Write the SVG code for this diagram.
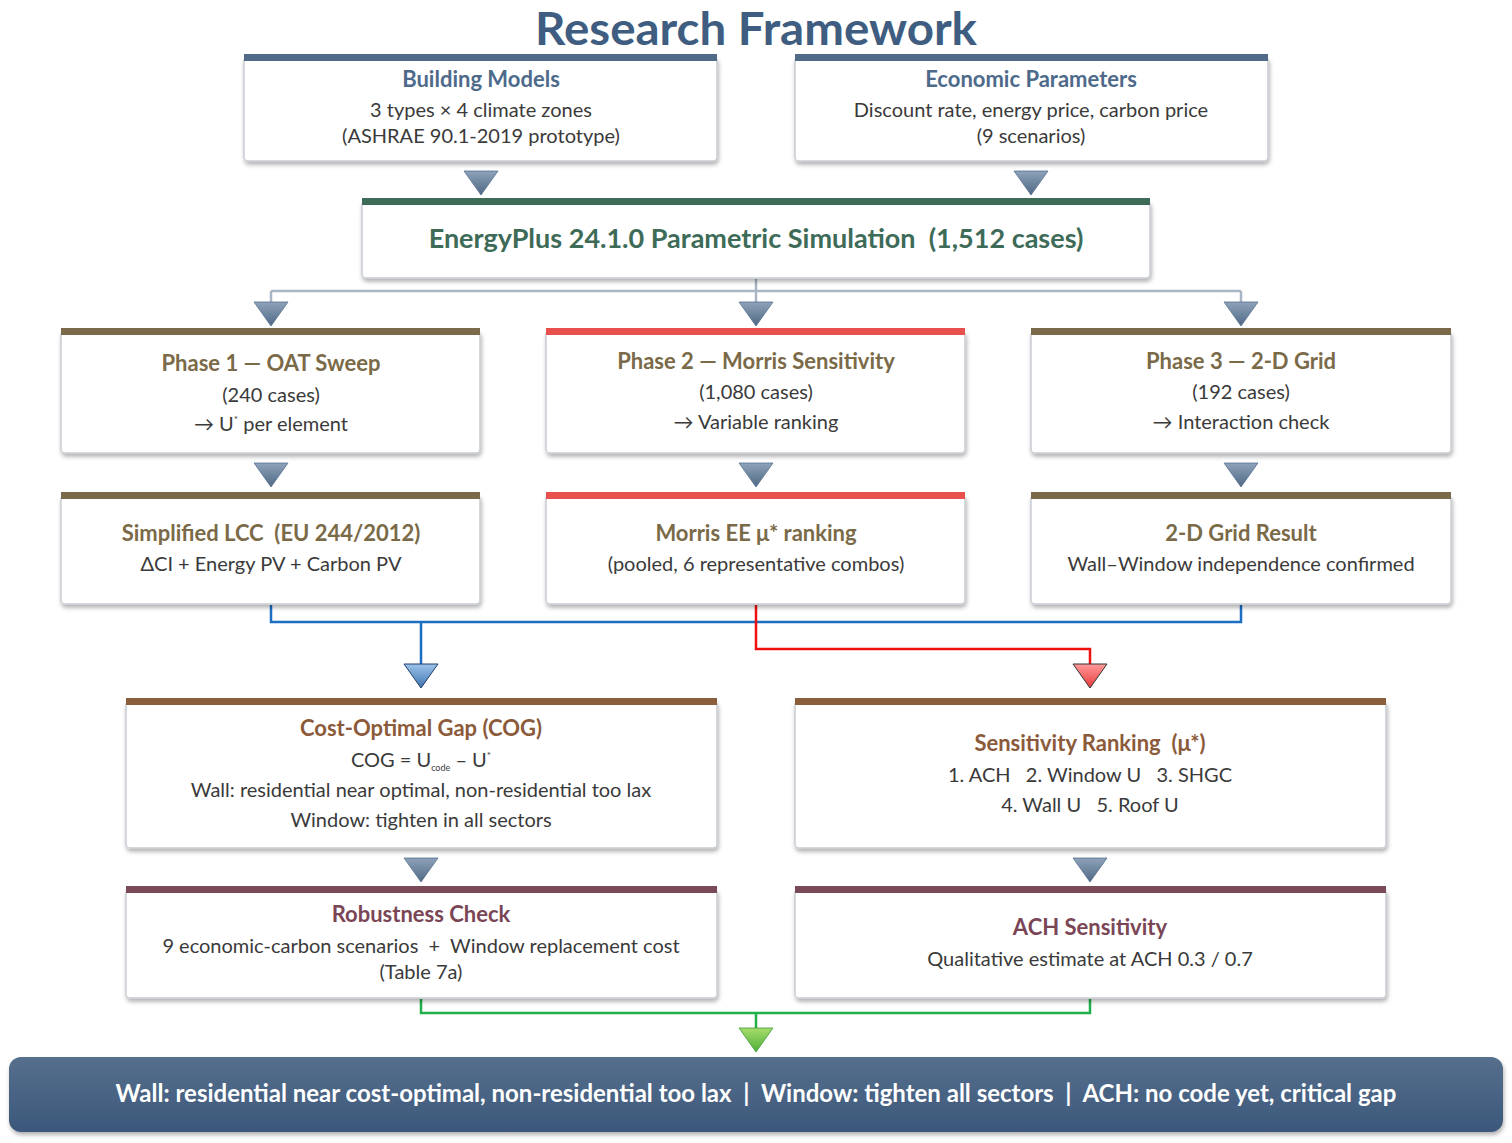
<svg xmlns="http://www.w3.org/2000/svg" width="1512" height="1143" viewBox="0 0 1512 1143">
<defs>
<style>
text{font-family:Lato,"Open Sans","Liberation Sans",sans-serif;text-anchor:middle;white-space:pre}
.box{fill:#fff;stroke:#c8cdd3;stroke-width:1.5;filter:url(#sh)}
.t{font-weight:bold;font-size:22px}
.b{font-size:20px;fill:#3a3a3a}
.c1{fill:#4e6a8a}.c2{fill:#3d6b58}.c3{fill:#7a6a48}.c4{fill:#8b5a3a}.c5{fill:#7a4656}
.con{fill:none;stroke-width:2.5}
</style>
<filter id="sh" x="-5%" y="-5%" width="110%" height="120%"><feDropShadow dx="1" dy="3" stdDeviation="2" flood-color="#000" flood-opacity="0.3"/></filter>
<linearGradient id="ga" x1="0" y1="0" x2="0" y2="1"><stop offset="0" stop-color="#8ea3ba"/><stop offset="1" stop-color="#4f6884"/></linearGradient>
<linearGradient id="gb" x1="0" y1="0" x2="0" y2="1"><stop offset="0" stop-color="#9cc3ea"/><stop offset="1" stop-color="#3f74b0"/></linearGradient>
<linearGradient id="gr" x1="0" y1="0" x2="0" y2="1"><stop offset="0" stop-color="#ff9a9a"/><stop offset="1" stop-color="#e83a3a"/></linearGradient>
<linearGradient id="gg" x1="0" y1="0" x2="0" y2="1"><stop offset="0" stop-color="#a6dc6a"/><stop offset="1" stop-color="#4faf3a"/></linearGradient>
<linearGradient id="gbar" x1="0" y1="0" x2="0" y2="1"><stop offset="0" stop-color="#566f8d"/><stop offset="1" stop-color="#3b587b"/></linearGradient>
<polygon id="tri" points="-17,0 17,0 0,24"/>
</defs>

<text x="756" y="45" font-size="45" font-weight="bold" fill="#3e5d80" textLength="442" lengthAdjust="spacingAndGlyphs">Research Framework</text>

<g id="connectors">
<path class="con" stroke="#a9b5c2" d="M756,279 V291 M271,291 H1241 M271,291 V304 M756,291 V304 M1241,291 V304"/>
<path class="con" stroke="#1b6ec2" d="M271,605 V622 H1241 V605 M421,622 V664"/>
<path class="con" stroke="#f01010" d="M756,605 V649 H1090 V664"/>
<path class="con" stroke="#1fb04a" d="M421,999 V1013 H1090 V999 M756,1013 V1028"/>
<g fill="url(#ga)" stroke="#55708e" stroke-width="0.8">
<use href="#tri" x="481" y="171"/><use href="#tri" x="1031" y="171"/>
<use href="#tri" x="271" y="302"/><use href="#tri" x="756" y="302"/><use href="#tri" x="1241" y="302"/>
<use href="#tri" x="271" y="463"/><use href="#tri" x="756" y="463"/><use href="#tri" x="1241" y="463"/>
<use href="#tri" x="421" y="858"/><use href="#tri" x="1090" y="858"/>
</g>
<use href="#tri" x="421" y="664" fill="url(#gb)" stroke="#1f3f6a" stroke-width="1"/>
<use href="#tri" x="1090" y="664" fill="url(#gr)" stroke="#333" stroke-width="1"/>
<use href="#tri" x="756" y="1028" fill="url(#gg)" stroke="#3c9a3a" stroke-width="0.8"/>
</g>

<g id="building-models">
<rect class="box" x="244" y="57" width="473" height="104" rx="4"/>
<rect x="244" y="54" width="473" height="7" fill="#506a88"/>
<text class="t c1" x="481" y="87">Building Models</text>
<text class="b" x="481" y="117">3 types × 4 climate zones</text>
<text class="b" x="481" y="143">(ASHRAE 90.1-2019 prototype)</text>
</g>

<g id="economic-parameters">
<rect class="box" x="795" y="57" width="473" height="104" rx="4"/>
<rect x="795" y="54" width="473" height="7" fill="#506a88"/>
<text class="t c1" x="1031" y="87">Economic Parameters</text>
<text class="b" x="1031" y="117">Discount rate, energy price, carbon price</text>
<text class="b" x="1031" y="143">(9 scenarios)</text>
</g>

<g id="energyplus">
<rect class="box" x="362" y="201" width="788" height="77" rx="4"/>
<rect x="362" y="198" width="788" height="7" fill="#3d6b58"/>
<text class="c2" x="756" y="248" font-size="27" font-weight="bold">EnergyPlus 24.1.0 Parametric Simulation  (1,512 cases)</text>
</g>

<g id="phase1">
<rect class="box" x="61" y="331" width="419" height="122" rx="4"/>
<rect x="61" y="328" width="419" height="7" fill="#7a6a4a"/>
<text class="t c3" x="271" y="371">Phase 1 — OAT Sweep</text>
<text class="b" x="271" y="402">(240 cases)</text>
<text class="b" x="271" y="431">→ U<tspan font-size="10" dy="-8">*</tspan><tspan dy="8"> per element</tspan></text>
</g>

<g id="phase2">
<rect class="box" x="546" y="331" width="419" height="122" rx="4"/>
<rect x="546" y="328" width="419" height="7" fill="#e8504e"/>
<text class="t c3" x="756" y="369">Phase 2 — Morris Sensitivity</text>
<text class="b" x="756" y="399">(1,080 cases)</text>
<text class="b" x="756" y="429">→ Variable ranking</text>
</g>

<g id="phase3">
<rect class="box" x="1031" y="331" width="420" height="122" rx="4"/>
<rect x="1031" y="328" width="420" height="7" fill="#7a6a4a"/>
<text class="t c3" x="1241" y="369">Phase 3 — 2-D Grid</text>
<text class="b" x="1241" y="399">(192 cases)</text>
<text class="b" x="1241" y="429">→ Interaction check</text>
</g>

<g id="simplified-lcc">
<rect class="box" x="61" y="495" width="419" height="109" rx="4"/>
<rect x="61" y="492" width="419" height="7" fill="#7a6a4a"/>
<text class="t c3" x="271" y="541">Simplified LCC  (EU 244/2012)</text>
<text class="b" x="271" y="571">ΔCI + Energy PV + Carbon PV</text>
</g>

<g id="morris-ee">
<rect class="box" x="546" y="495" width="419" height="109" rx="4"/>
<rect x="546" y="492" width="419" height="7" fill="#e8504e"/>
<text class="t c3" x="756" y="541">Morris EE μ* ranking</text>
<text class="b" x="756" y="571">(pooled, 6 representative combos)</text>
</g>

<g id="grid-result">
<rect class="box" x="1031" y="495" width="420" height="109" rx="4"/>
<rect x="1031" y="492" width="420" height="7" fill="#7a6a4a"/>
<text class="t c3" x="1241" y="541">2-D Grid Result</text>
<text class="b" x="1241" y="571">Wall–Window independence confirmed</text>
</g>

<g id="cog">
<rect class="box" x="126" y="701" width="591" height="147" rx="4"/>
<rect x="126" y="698" width="591" height="7" fill="#8b5e3c"/>
<text class="t c4" x="421" y="736">Cost-Optimal Gap (COG)</text>
<text class="b" x="421" y="767">COG = U<tspan font-size="9" dy="4">code</tspan><tspan dy="-4"> – U</tspan><tspan font-size="10" dy="-8">*</tspan></text>
<text class="b" x="421" y="797">Wall: residential near optimal, non-residential too lax</text>
<text class="b" x="421" y="827">Window: tighten in all sectors</text>
</g>

<g id="sensitivity-ranking">
<rect class="box" x="795" y="701" width="591" height="147" rx="4"/>
<rect x="795" y="698" width="591" height="7" fill="#8b5e3c"/>
<text class="t c4" x="1090" y="751">Sensitivity Ranking  (μ*)</text>
<text class="b" x="1090" y="782">1. ACH   2. Window U   3. SHGC</text>
<text class="b" x="1090" y="812">4. Wall U   5. Roof U</text>
</g>

<g id="robustness">
<rect class="box" x="126" y="889" width="591" height="109" rx="4"/>
<rect x="126" y="886" width="591" height="7" fill="#7a4a58"/>
<text class="t c5" x="421" y="922">Robustness Check</text>
<text class="b" x="421" y="953">9 economic-carbon scenarios  +  Window replacement cost</text>
<text class="b" x="421" y="979">(Table 7a)</text>
</g>

<g id="ach-sensitivity">
<rect class="box" x="795" y="889" width="591" height="109" rx="4"/>
<rect x="795" y="886" width="591" height="7" fill="#7a4a58"/>
<text class="t c5" x="1090" y="935">ACH Sensitivity</text>
<text class="b" x="1090" y="966">Qualitative estimate at ACH 0.3 / 0.7</text>
</g>

<g id="conclusion">
<rect x="9" y="1057" width="1494" height="75" rx="12" fill="url(#gbar)" filter="url(#sh)"/>
<text x="756" y="1102" font-size="24" font-weight="bold" fill="#fff">Wall: residential near cost-optimal, non-residential too lax  |  Window: tighten all sectors  |  ACH: no code yet, critical gap</text>
</g>
</svg>
